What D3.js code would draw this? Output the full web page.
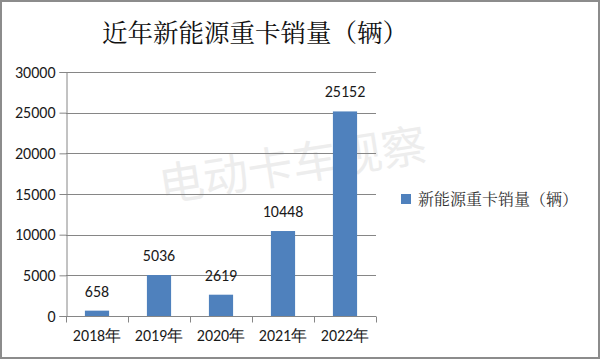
<!DOCTYPE html>
<html><head><meta charset="utf-8">
<script src="https://cdn.jsdelivr.net/npm/d3@7"></script>
<style>body{margin:0;background:#fff;}svg{display:block;}</style>
</head><body>
<svg id="c" width="600" height="360"></svg>
<script>
const categories = ["2018年","2019年","2020年","2021年","2022年"];
const values = [658, 5036, 2619, 10448, 25152];
const yTicks = [0,5000,10000,15000,20000,25000,30000];
const title = "近年新能源重卡销量（辆）";
const seriesName = "新能源重卡销量（辆）";
const watermark = "电动卡车观察";

const svg = d3.select("#c");
const W = 600, H = 360;
const m = {l:66, r:224, t:72, b:44};
const x = d3.scaleBand().domain(categories).range([m.l, W - m.r]).paddingInner(0.61).paddingOuter(0.305);
const xb = d3.scaleBand().domain(categories).range([m.l, W - m.r]);
const y = d3.scaleLinear().domain([0, 30000]).range([H - m.b, m.t]);
const numFont = "Carlito, 'Liberation Sans', 'Noto Sans', sans-serif";
const fs = 16;

svg.append("rect").attr("x",1).attr("y",1).attr("width",W-2).attr("height",H-3)
  .attr("fill","#fff").attr("stroke","#8c8c8c").attr("stroke-width",2);

// watermark
svg.append("text").attr("transform","translate(295,181) rotate(-9)")
  .attr("text-anchor","middle").attr("font-family","'Noto Sans CJK SC', sans-serif")
  .attr("font-size",45).attr("fill","#ededed").text(watermark);

// gridlines
svg.append("g").selectAll("line").data(yTicks.filter(d=>d>0)).join("line")
  .attr("x1", m.l).attr("x2", W - m.r).attr("y1", d=>Math.round(y(d))+0.5).attr("y2", d=>Math.round(y(d))+0.5)
  .attr("stroke","#868686").attr("stroke-width",1);

// y axis
const ya = svg.append("g").attr("transform",`translate(${m.l+0.5},0)`)
  .call(d3.axisLeft(y).tickValues(yTicks).tickSize(7).tickPadding(4).tickFormat(d3.format("d")));
ya.selectAll("path,line").attr("stroke","#868686");
ya.selectAll("text").attr("font-family",numFont).attr("font-size",fs).attr("fill","#1a1a1a");

// bars
svg.append("g").selectAll("rect").data(values).join("rect")
  .attr("x",(d,i)=>x(categories[i])).attr("width",x.bandwidth())
  .attr("y",d=>y(d)).attr("height",d=>y(0)-y(d)).attr("fill","#4f81bd");

// x axis
const xa = svg.append("g").attr("transform",`translate(0,${Math.round(y(0))+0.5})`)
  .call(d3.axisBottom(xb).tickSize(0).tickPadding(13));
xa.select("path").attr("stroke","#868686").attr("d",`M${m.l},0H${W-m.r}`);
xa.selectAll("text").attr("font-family",numFont).attr("font-size",fs).attr("fill","#1a1a1a");
const bounds = categories.map(c=>xb(c)).concat([xb(categories[categories.length-1])+xb.bandwidth()]);
xa.append("g").selectAll("line").data(bounds).join("line")
  .attr("x1",d=>Math.round(d)+0.5).attr("x2",d=>Math.round(d)+0.5).attr("y1",0).attr("y2",6)
  .attr("stroke","#868686");

// value labels
svg.append("g").selectAll("text").data(values).join("text")
  .attr("x",(d,i)=>x(categories[i])+x.bandwidth()/2).attr("y",d=>y(d)-14)
  .attr("text-anchor","middle").attr("font-family",numFont).attr("font-size",fs).attr("fill","#1a1a1a")
  .text(d=>d);

// title
svg.append("text").attr("x",255).attr("y",42).attr("text-anchor","middle")
  .attr("font-family","'Noto Serif CJK SC','Noto Sans CJK SC',serif").attr("font-size",25.5).attr("fill","#111")
  .text(title);

// legend
const lg = svg.append("g").attr("transform","translate(401,194)");
lg.append("rect").attr("width",10).attr("height",10).attr("fill","#4f81bd");
lg.append("text").attr("x",17).attr("y",11).attr("font-family","'Noto Serif CJK SC','Noto Sans CJK SC',serif")
  .attr("font-size",16).attr("fill","#333").text(seriesName);
</script>
</body></html>
